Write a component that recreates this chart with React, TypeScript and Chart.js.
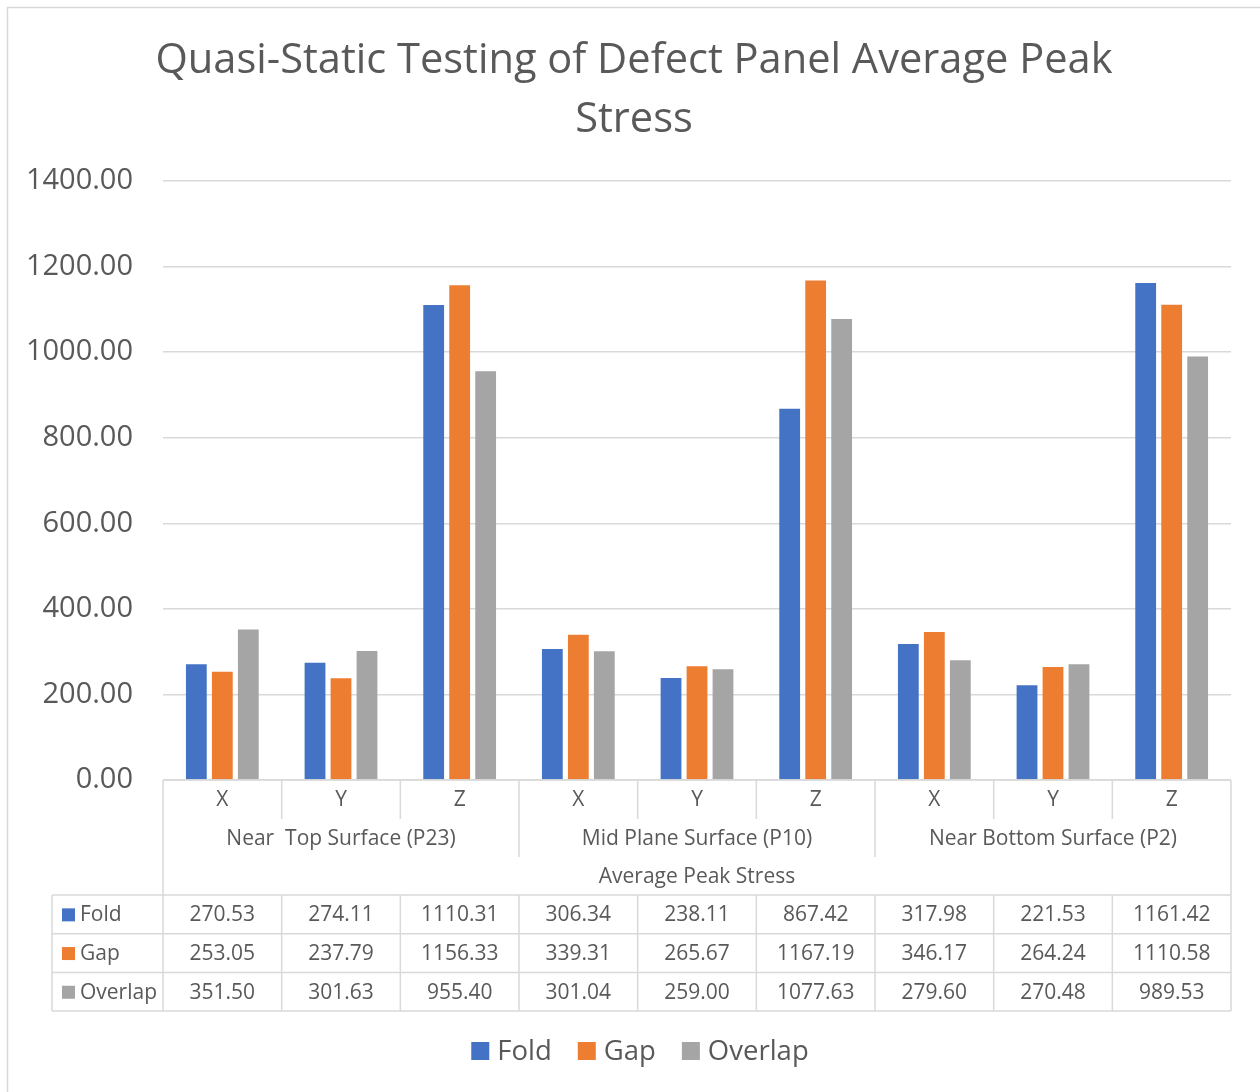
import React, { useEffect, useRef } from "react";
import { Chart, registerables } from "chart.js";

Chart.register(...registerables);

const subCategories = ["X", "Y", "Z", "X", "Y", "Z", "X", "Y", "Z"];
const groupNames = ["Near  Top Surface (P23)", "Mid Plane Surface (P10)", "Near Bottom Surface (P2)"];
const outerAxisTitle = "Average Peak Stress";
const seriesNames = ["Fold", "Gap", "Overlap"];
const foldValues = [270.53, 274.11, 1110.31, 306.34, 238.11, 867.42, 317.98, 221.53, 1161.42];
const gapValues = [253.05, 237.79, 1156.33, 339.31, 265.67, 1167.19, 346.17, 264.24, 1110.58];
const overlapValues = [351.5, 301.63, 955.4, 301.04, 259.0, 1077.63, 279.6, 270.48, 989.53];
const seriesColors = ["#4472C4", "#ED7D31", "#A5A5A5"];
const titleLines = ["Quasi-Static Testing of Defect Panel Average Peak", "Stress"];
const yMin = 0;
const yMax = 1400;
const yStep = 200;

const FONT = "'Open Sans', sans-serif";
const TEXT = "#595959";
const LINE = "#D9D9D9";

const seriesValues = [foldValues, gapValues, overlapValues];

const decorPlugin = {
  id: "decor",
  beforeDraw(chart: any) {
    const ctx = chart.ctx;
    ctx.save();
    ctx.fillStyle = "#ffffff";
    ctx.fillRect(0, 0, chart.width, chart.height);
    ctx.strokeStyle = LINE;
    ctx.lineWidth = 1.5;
    ctx.strokeRect(7.5, 7.5, chart.width + 20, chart.height + 20);
    ctx.restore();
  },
  afterDraw(chart: any) {
    const ctx = chart.ctx;
    const xs = chart.scales.x;
    const ys = chart.scales.y;
    const n = subCategories.length;
    const c0 = xs.getPixelForValue(0);
    const c1 = xs.getPixelForValue(1);
    const cw = c1 - c0;
    const bnd = (i: number) => c0 - cw / 2 + i * cw;
    const left = bnd(0);
    const right = bnd(n);
    const yTop = ys.getPixelForValue(0);
    const r1 = yTop + 39;
    const r2 = r1 + 38;
    const r3 = r2 + 38;
    const rowH = 38.7;
    const tableBottom = r3 + rowH * seriesNames.length;
    const legendColLeft = 52;

    ctx.save();
    // title
    ctx.fillStyle = TEXT;
    ctx.textAlign = "center";
    ctx.textBaseline = "middle";
    ctx.font = `41.6px ${FONT}`;
    titleLines.forEach((t, i) => ctx.fillText(t, 634, 61 + i * 59));

    // table lines
    ctx.strokeStyle = LINE;
    ctx.lineWidth = 1.5;
    const line = (x1: number, y1: number, x2: number, y2: number) => {
      ctx.beginPath();
      ctx.moveTo(x1, y1);
      ctx.lineTo(x2, y2);
      ctx.stroke();
    };
    line(left, yTop, right, yTop);
    for (let i = 0; i <= n; i++) {
      const x = bnd(i);
      let bottom = r1;
      if (i === 0 || i === n) bottom = tableBottom;
      else if (i % 3 === 0) bottom = r2;
      line(x, yTop, x, bottom);
      if (i !== 0 && i !== n) line(x, r3, x, tableBottom);
    }
    line(legendColLeft, r3, legendColLeft, tableBottom);
    for (let r = 0; r <= seriesNames.length; r++) {
      const y = r3 + r * rowH;
      line(legendColLeft, y, right, y);
    }

    // table text
    ctx.fillStyle = TEXT;
    ctx.textAlign = "center";
    ctx.textBaseline = "middle";
    ctx.font = `21px ${FONT}`;
    subCategories.forEach((s, i) => ctx.fillText(s, xs.getPixelForValue(i), (yTop + r1) / 2 + 1));
    groupNames.forEach((g, gi) => ctx.fillText(g, (bnd(gi * 3) + bnd(gi * 3 + 3)) / 2, (r1 + r2) / 2 + 1));
    ctx.fillText(outerAxisTitle, (left + right) / 2, (r2 + r3) / 2 + 1);
    seriesNames.forEach((name, r) => {
      const cy = r3 + r * rowH + rowH / 2 + 1;
      ctx.fillStyle = seriesColors[r];
      ctx.fillRect(62, cy - 7, 13, 13);
      ctx.fillStyle = TEXT;
      ctx.textAlign = "left";
      ctx.fillText(name, 80, cy);
      ctx.textAlign = "center";
      seriesValues[r].forEach((v, i) => ctx.fillText(v.toFixed(2), xs.getPixelForValue(i), cy));
    });

    // legend
    ctx.font = `27.5px ${FONT}`;
    ctx.textAlign = "left";
    const box = 18;
    const gapBoxText = 8;
    const gapItems = 26;
    const widths = seriesNames.map((s) => box + gapBoxText + ctx.measureText(s).width);
    const total = widths.reduce((a, b) => a + b, 0) + gapItems * (seriesNames.length - 1);
    let lx = 640 - total / 2;
    const ly = 1051;
    seriesNames.forEach((s, i) => {
      ctx.fillStyle = seriesColors[i];
      ctx.fillRect(lx, ly - box / 2, box, box);
      ctx.fillStyle = TEXT;
      ctx.fillText(s, lx + box + gapBoxText, ly + 1);
      lx += widths[i] + gapItems;
    });
    ctx.restore();
  },
};

export default function App() {
  const ref = useRef<HTMLCanvasElement>(null);
  useEffect(() => {
    document.body.style.margin = "0";
    const chart = new Chart(ref.current as HTMLCanvasElement, {
      type: "bar",
      data: {
        labels: subCategories,
        datasets: seriesNames.map((name, i) => ({
          label: name,
          data: seriesValues[i],
          backgroundColor: seriesColors[i],
          borderWidth: 0,
          categoryPercentage: 0.657,
          barPercentage: 0.8,
        })),
      },
      options: {
        responsive: false,
        animation: false,
        layout: { padding: { left: 10, right: 29, top: 181, bottom: 312 } },
        plugins: {
          legend: { display: false },
          title: { display: false },
          tooltip: { enabled: false },
        },
        scales: {
          x: { display: false },
          y: {
            min: yMin,
            max: yMax,
            ticks: {
              stepSize: yStep,
              padding: 30,
              color: TEXT,
              font: { family: FONT, size: 29 },
              callback: (v: any) => Number(v).toFixed(2),
            },
            grid: { color: LINE, lineWidth: 1.5, drawTicks: false, tickLength: 0 },
            border: { display: false },
            afterFit: (s: any) => {
              s.width = 153;
            },
          },
        },
      },
      plugins: [decorPlugin],
    });
    return () => chart.destroy();
  }, []);
  return (
    <div style={{ width: 1260, height: 1092, background: "#fff" }}>
      <canvas ref={ref} width={1260} height={1092} style={{ display: "block" }} />
    </div>
  );
}
